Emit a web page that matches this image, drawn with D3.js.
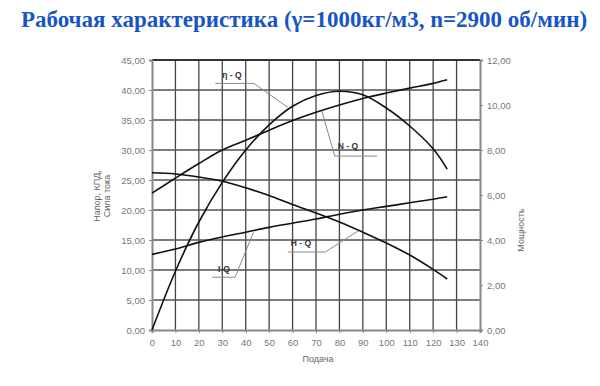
<!DOCTYPE html>
<html>
<head>
<meta charset="utf-8">
<script src="https://cdn.jsdelivr.net/npm/d3@7"></script>
<style>
  body { margin: 0; background: #fff; }
  svg { display: block; }
</style>
</head>
<body>
<div id="chart"></div>
<script>
var width = 600,
    height = 386;

// flow, m3/h
var flow = [0, 10, 20, 30, 40, 50, 60, 70, 80, 90, 100, 110, 120, 126];
// head, m
var head = [26.2, 26.0, 25.5, 24.8, 23.7, 22.4, 20.9, 19.5, 18.0, 16.3, 14.5, 12.5, 10.1, 8.5];
// efficiency, %
var eff = [0, 9.8, 18.0, 24.6, 30.0, 34.2, 37.3, 39.1, 39.8, 39.2, 37.0, 34.0, 30.2, 26.8];
// current, A
var current = [12.6, 13.5, 14.6, 15.5, 16.3, 17.1, 17.8, 18.5, 19.3, 20.0, 20.6, 21.2, 21.8, 22.2];
// power, kW (right axis)
var power = [6.08, 6.75, 7.4, 8.0, 8.43, 8.88, 9.31, 9.68, 10.0, 10.29, 10.53, 10.75, 10.96, 11.12];

var xTicks = d3.range(0, 141, 10),
    yTicks = d3.range(0, 46, 5),
    y2Ticks = d3.range(0, 13, 2);

var margin = { left: 152, right: 120, top: 60, bottom: 56 };

var x = d3.scaleLinear().domain([0, 140]).range([margin.left, width - margin.right]);
var y = d3.scaleLinear().domain([0, 45]).range([height - margin.bottom, margin.top]);
var y2 = d3.scaleLinear().domain([0, 12]).range([height - margin.bottom, margin.top]);

var fmt = function(d) { return d3.format(".2f")(d).replace(".", ","); };

var svg = d3.select("#chart").append("svg")
  .attr("width", width)
  .attr("height", height);

// title
svg.append("text")
  .attr("x", 304)
  .attr("y", 27)
  .attr("text-anchor", "middle")
  .style("font", "bold 23px 'Liberation Serif', 'Times New Roman', serif")
  .style("fill", "#1755c6")
  .text("Рабочая характеристика (γ=1000кг/м3, n=2900 об/мин)");

// grid
svg.append("g")
  .selectAll("line")
  .data(xTicks.slice(1, -1))
  .enter().append("line")
  .attr("x1", function(d) { return x(d); })
  .attr("x2", function(d) { return x(d); })
  .attr("y1", y(0))
  .attr("y2", y(45))
  .style("stroke", "#444")
  .style("stroke-width", 1.3);

svg.append("g")
  .selectAll("line")
  .data(yTicks.slice(1))
  .enter().append("line")
  .attr("x1", x(0))
  .attr("x2", x(140))
  .attr("y1", function(d) { return y(d); })
  .attr("y2", function(d) { return y(d); })
  .style("stroke", function(d) { return d === 45 ? "#333" : "#505050"; })
  .style("stroke-width", function(d) { return d === 45 ? 2 : 1.3; });

// axes
var axisLeft = d3.axisLeft(y).tickValues(yTicks).tickFormat(fmt).tickSize(3).tickPadding(4);
var axisRight = d3.axisRight(y2).tickValues(y2Ticks).tickFormat(fmt).tickSize(3).tickPadding(4);
var axisBottom = d3.axisBottom(x).tickValues(xTicks).tickSize(3).tickPadding(6);

function styleAxis(g) {
  g.select(".domain").style("stroke", "#888").style("stroke-width", 2);
  g.selectAll(".tick line").style("stroke", "#888");
  g.selectAll(".tick text")
    .style("font", "9.5px 'Liberation Sans', Arial, sans-serif")
    .style("fill", "#777");
}

svg.append("g")
  .attr("transform", "translate(" + x(0) + ",0)")
  .call(axisLeft)
  .call(styleAxis);

svg.append("g")
  .attr("transform", "translate(" + x(140) + ",0)")
  .call(axisRight)
  .call(styleAxis);

svg.append("g")
  .attr("transform", "translate(0," + y(0) + ")")
  .call(axisBottom)
  .call(styleAxis);

// axis titles
svg.append("text")
  .attr("x", x(70) + 2)
  .attr("y", 362)
  .attr("text-anchor", "middle")
  .style("font", "9px 'Liberation Sans', Arial, sans-serif")
  .style("fill", "#666")
  .text("Подача");

var leftTitle = svg.append("text")
  .attr("transform", "translate(100,196) rotate(-90)")
  .attr("text-anchor", "middle")
  .style("font", "9px 'Liberation Sans', Arial, sans-serif")
  .style("fill", "#666");
leftTitle.append("tspan").attr("x", 0).attr("dy", 0).text("Напор, КПД,");
leftTitle.append("tspan").attr("x", 0).attr("dy", 10).text("Сила тока");

svg.append("text")
  .attr("transform", "translate(524,230) rotate(-90)")
  .attr("text-anchor", "middle")
  .style("font", "9px 'Liberation Sans', Arial, sans-serif")
  .style("fill", "#666")
  .text("Мощность");

// curves
var series = [
  { name: "H - Q", values: head, scale: y },
  { name: "η - Q", values: eff, scale: y },
  { name: "I-Q", values: current, scale: y },
  { name: "N - Q", values: power, scale: y2 }
];

series.forEach(function(s) {
  var line = d3.line()
    .curve(d3.curveCatmullRom)
    .x(function(d, i) { return x(flow[i]); })
    .y(function(d) { return s.scale(d); });
  svg.append("path")
    .datum(s.values)
    .attr("d", line)
    .style("fill", "none")
    .style("stroke", "#111")
    .style("stroke-width", 1.6);
});

// labels with leader lines, leader points in data units
var labels = [
  { text: "η - Q", tx: 232, ty: 78, pts: [[27, 41.1], [43.5, 41.1], [58, 37.1]] },
  { text: "N - Q", tx: 348, ty: 149, pts: [[72.5, 9.73], [78, 7.73], [96, 7.73]], scale: y2 },
  { text: "H - Q", tx: 301, ty: 246, pts: [[58, 13], [74, 13], [88, 16.5]] },
  { text: "I-Q", tx: 224, ty: 272, pts: [[25.7, 8.8], [35.5, 8.8], [43.3, 16.3]] }
];

labels.forEach(function(l) {
  var sc = l.scale || y;
  svg.append("path")
    .attr("d", d3.line()(l.pts.map(function(p) { return [x(p[0]), sc(p[1])]; })))
    .style("fill", "none")
    .style("stroke", "#888")
    .style("stroke-width", 1);
  svg.append("text")
    .attr("x", l.tx)
    .attr("y", l.ty)
    .attr("text-anchor", "middle")
    .style("font", "bold 8.5px 'Liberation Sans', Arial, sans-serif")
    .style("fill", "#333")
    .text(l.text);
});
</script>
</body>
</html>
